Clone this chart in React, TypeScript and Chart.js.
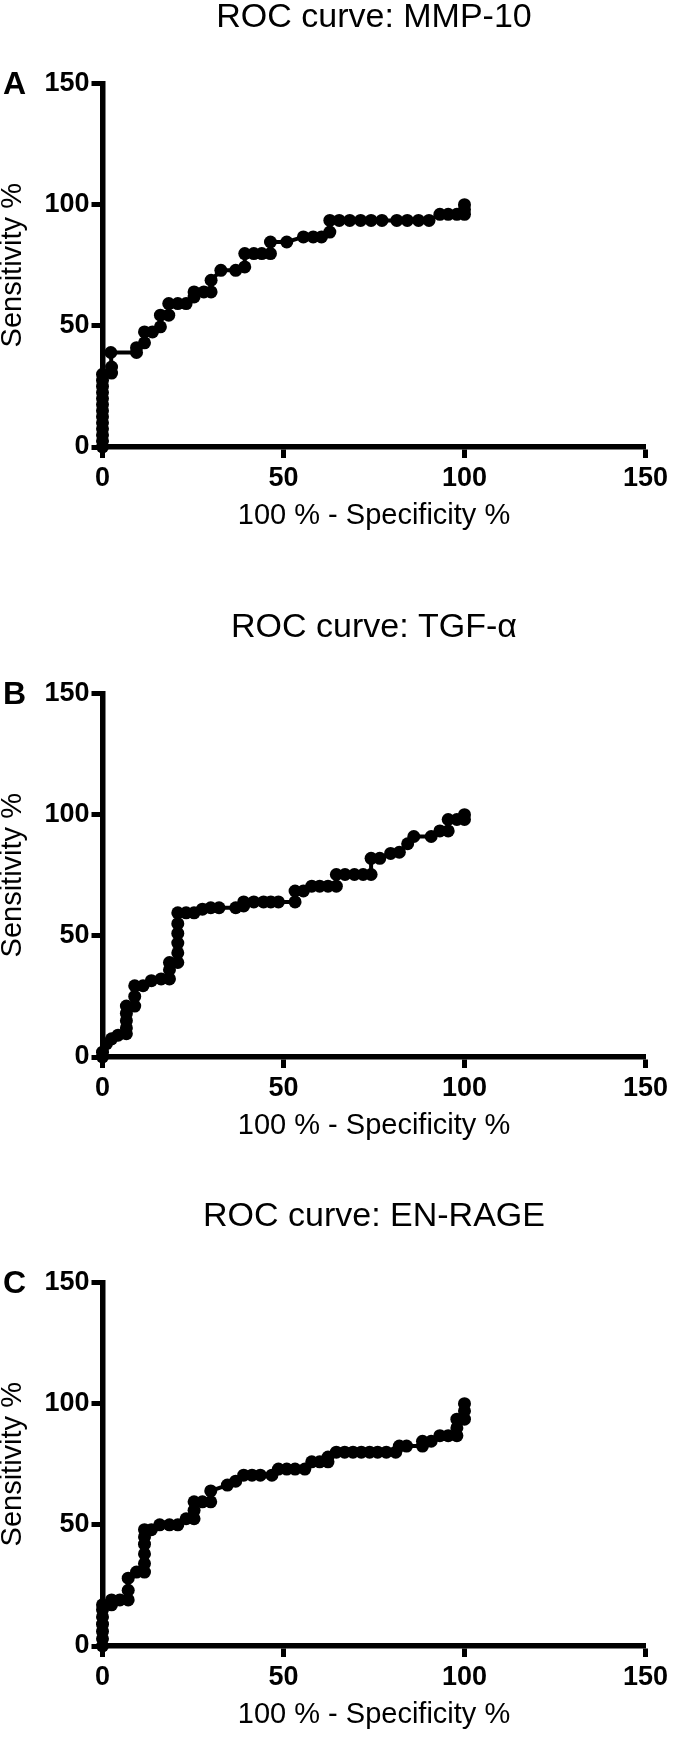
import React, { useEffect, useRef } from "react";
import { Chart, registerables } from "chart.js";

Chart.register(...registerables);

// ---------- data ----------
const panelTitles = ["ROC curve: MMP-10", "ROC curve: TGF-α", "ROC curve: EN-RAGE"];
const panelLetters = ["A", "B", "C"];
const xAxisTitle = "100 % - Specificity %";
const yAxisTitle = "Sensitivity %";
const axisMin = 0;
const axisMax = 150;
const tickStep = 50;

// MMP-10: x = 100 % - specificity %, y = sensitivity %
const mmpX = [0, 0, 0, 0, 0, 0, 0, 0, 0, 0, 0, 0, 0, 2.5, 2.5, 2.3, 9.4, 9.4, 11.6, 11.6, 13.8, 16, 16, 18.3, 18.3, 20.8, 23.1, 25.3, 25.3, 28, 30, 30, 32.7, 36.8, 39.3, 39.3, 41.8, 44, 46.4, 46.4, 50.9, 55.5, 58.2, 60.5, 62.8, 62.8, 65.4, 68.3, 71.3, 74.2, 77.2, 81.3, 84.2, 87.3, 90.2, 93.2, 95.5, 97.9, 100, 100, 100];
const mmpY = [0, 2.5, 5, 7.5, 10, 12.5, 15, 17.5, 20, 22.5, 25, 27.5, 30, 30.5, 33, 39, 39, 41, 43, 47.5, 47.5, 49.6, 54.4, 54.4, 59.2, 59.2, 59.2, 61.9, 64, 64, 64, 68.8, 72.9, 72.9, 74.3, 79.8, 79.8, 79.8, 79.8, 84.6, 84.6, 86.7, 86.7, 86.7, 88.7, 93.5, 93.5, 93.5, 93.5, 93.5, 93.5, 93.5, 93.5, 93.5, 93.5, 96, 96, 96, 96, 98, 100];

// TGF-alpha
const tgfX = [0, 0, 1.1, 2.5, 4.3, 6.6, 6.6, 6.6, 6.6, 6.6, 8.9, 8.9, 8.9, 11.2, 13.5, 16.2, 18.5, 18.5, 18.5, 20.8, 20.8, 20.8, 20.8, 20.8, 20.8, 23.1, 25.3, 27.6, 29.9, 32.2, 36.8, 39, 39, 41.8, 44.5, 46.5, 48.6, 53.2, 53.2, 55.5, 57.8, 60, 62.3, 64.6, 64.6, 67, 69.6, 72, 74.2, 74.2, 76.6, 79.6, 82, 84.3, 86, 90.8, 93.2, 95.5, 95.5, 97.9, 100, 100];
const tgfY = [0, 2, 5.5, 7.5, 9, 9.6, 12, 15, 18, 21, 21, 25, 29.4, 29.4, 31.5, 32.2, 32.2, 36, 39, 39, 43, 47, 51, 55, 59.5, 59.5, 59.5, 61, 61.6, 61.6, 61.6, 62.3, 64, 64, 64, 64, 64, 64, 68.5, 68.5, 70.5, 70.5, 70.5, 70.5, 75.3, 75.3, 75.3, 75.3, 75.3, 82, 82, 84, 84.5, 88, 91, 91, 93.3, 93.3, 98, 98, 98, 100];

// EN-RAGE
const enrX = [0, 0, 0, 0, 0, 0, 0, 2.5, 2.5, 4.8, 7.1, 7.1, 7.1, 9.4, 11.6, 11.6, 11.6, 11.6, 11.6, 11.6, 13.5, 15.8, 18.5, 20.8, 23.1, 25.3, 25.3, 25.3, 27.6, 29.9, 29.9, 34.5, 36.8, 39, 41.3, 43.6, 46.8, 48.6, 50.9, 53.2, 55.9, 57.8, 60, 62.3, 62.3, 64.6, 66.9, 69.2, 71.5, 73.8, 76, 78.4, 81, 82, 84, 88.4, 88.4, 90.8, 93.2, 95.5, 97.9, 97.9, 97.9, 100, 100, 100];
const enrY = [0, 3, 6, 9, 12, 15, 17, 17, 19, 19, 19, 23, 28, 30.5, 30.5, 34, 38, 42, 45, 48, 48, 50, 50, 50, 52.5, 52.5, 56, 59.5, 59.5, 59.5, 64, 66.4, 68, 70.5, 70.5, 70.5, 70.5, 73, 73, 73, 73, 76, 76, 76, 78, 80, 80, 80, 80, 80, 80, 80, 80, 82.5, 82.5, 82.5, 84.5, 84.5, 86.8, 86.8, 86.8, 90, 93.6, 93.6, 97, 100];

const seriesX = [mmpX, tgfX, enrX];
const seriesY = [mmpY, tgfY, enrY];

// ---------- layout ----------
const FONT = '"Liberation Sans", Arial, Helvetica, sans-serif';
const PAGE_W = 675;
const PAGE_H = 1738;
const PANEL_H = 540;
const panelTops = [0, 610, 1199];

const letterPlugin = {
  id: "panelLetter",
  afterDraw(chart: any, _args: any, opts: any) {
    const ctx = chart.ctx;
    ctx.save();
    ctx.font = `bold 32px ${FONT}`;
    ctx.fillStyle = "#000";
    ctx.textAlign = "left";
    ctx.textBaseline = "middle";
    ctx.fillText(opts.text, opts.x, chart.chartArea.top + opts.dy);
    ctx.restore();
  },
};

function Panel({ index }: { index: number }) {
  const ref = useRef<HTMLCanvasElement | null>(null);
  useEffect(() => {
    if (!ref.current) return;
    const xs = seriesX[index];
    const ys = seriesY[index];
    const points = xs.map((x, i) => ({ x, y: ys[i] }));
    const tickFont = { family: FONT, size: 27, weight: "bold" as const, lineHeight: 1 };
    const chart = new Chart(ref.current, {
      type: "scatter",
      data: {
        datasets: [
          {
            data: points,
            showLine: true,
            borderColor: "#000",
            borderWidth: 4,
            backgroundColor: "#000",
            pointBackgroundColor: "#000",
            pointBorderColor: "#000",
            pointBorderWidth: 0,
            pointRadius: 6.5,
            tension: 0,
            clip: false as any,
          },
        ],
      },
      plugins: [letterPlugin],
      options: {
        animation: false,
        responsive: false,
        events: [],
        layout: { padding: { left: 0, right: 25, top: 0, bottom: 0 } },
        plugins: {
          legend: { display: false },
          tooltip: { enabled: false },
          title: {
            display: true,
            text: panelTitles[index],
            color: "#000",
            fullSize: false,
            font: { family: FONT, size: 34, weight: "normal", lineHeight: 1 },
            padding: { top: 0.5, bottom: 49 },
          },
          panelLetter: { text: panelLetters[index], x: 3, dy: 1.5 } as any,
        } as any,
        scales: {
          x: {
            type: "linear",
            min: axisMin,
            max: axisMax,
            afterFit: (s: any) => {
              s.height = 93;
            },
            ticks: { stepSize: tickStep, color: "#000", font: tickFont, padding: 7, maxRotation: 0 },
            grid: { drawOnChartArea: false, drawTicks: true, tickLength: 11, tickWidth: 5, tickColor: "#000", color: "#000" },
            border: { display: true, color: "#000", width: 5.5 },
            title: {
              display: true,
              text: xAxisTitle,
              color: "#000",
              font: { family: FONT, size: 29, weight: "normal", lineHeight: 1 },
              padding: { top: 0, bottom: 10 },
            },
          },
          y: {
            type: "linear",
            min: axisMin,
            max: axisMax,
            afterFit: (s: any) => {
              s.width = 102.5;
            },
            ticks: { stepSize: tickStep, color: "#000", font: tickFont, padding: 2 },
            grid: { drawOnChartArea: false, drawTicks: true, tickLength: 11, tickWidth: 5, tickColor: "#000", color: "#000" },
            border: { display: true, color: "#000", width: 5.5 },
            title: {
              display: true,
              text: yAxisTitle,
              color: "#000",
              font: { family: FONT, size: 29, weight: "normal", lineHeight: 0.9 },
              padding: { top: 0, bottom: 0 },
            },
          },
        },
      } as any,
    });
    return () => chart.destroy();
  }, [index]);
  return (
    <canvas
      ref={ref}
      width={PAGE_W}
      height={PANEL_H}
      style={{ position: "absolute", left: 0, top: panelTops[index], width: PAGE_W, height: PANEL_H }}
    />
  );
}

export default function App() {
  return (
    <div
      style={{
        position: "absolute",
        left: 0,
        top: 0,
        width: PAGE_W,
        height: PAGE_H,
        overflow: "hidden",
        background: "#fff",
      }}
    >
      {panelTitles.map((_, i) => (
        <Panel key={i} index={i} />
      ))}
    </div>
  );
}
